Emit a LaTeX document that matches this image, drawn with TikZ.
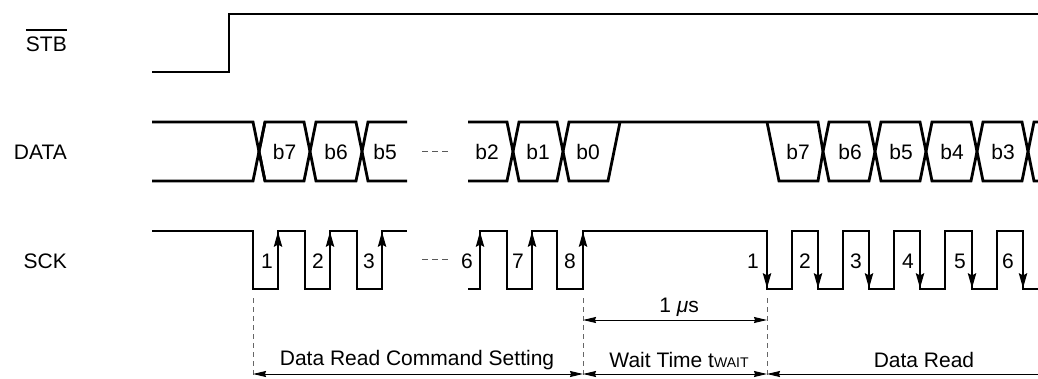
\documentclass[tikz,border=0pt]{standalone}
\usepackage{fontspec}
\setmainfont{Liberation Sans}
\usetikzlibrary{arrows.meta}
\begin{document}
\begin{tikzpicture}[x=1pt,y=-1pt,
  sig/.style={line width=2.8pt, line join=miter},
  lbl/.style={font=\fontsize{21}{25}\selectfont, inner sep=0pt},
  num/.style={font=\fontsize{21}{25}\selectfont, inner sep=0pt},
  edgeup/.style={line width=2.8pt, -{Stealth[length=15pt,width=8pt,inset=2pt]}},
  dim/.style={line width=1pt, {Stealth[length=13pt,width=6pt,inset=1pt]}-{Stealth[length=13pt,width=6pt,inset=1pt]}},
  dimleft/.style={line width=1pt, {Stealth[length=13pt,width=6pt,inset=1pt]}-},
  guide/.style={line width=0.9pt, gray!80!black, dash pattern=on 5pt off 4pt},
  gap/.style={line width=1pt, gray!70!black, dash pattern=on 6pt off 4pt}]
\useasboundingbox (0,0) rectangle (1038,379);

% signal names
\node[lbl, anchor=east] (stb) at (67,44) {STB};
\draw[line width=1.3pt] ([yshift=6.5pt]stb.north west) -- ([yshift=6.5pt]stb.north east);
\node[lbl, anchor=east] (data) at (67,152) {DATA};
\node[lbl, anchor=east] (sck) at (67,261) {SCK};

% STB
\draw[sig] (152,72) -- (229,72) -- (229,14) -- (1040,14);

% DATA bus
\def\T{122}\def\B{181}\def\M{151.5}\def\h{6}
\draw[sig] (152,\T) -- (253,\T) -- (265,\B);
\draw[sig] (152,\B) -- (253,\B) -- (265,\T);
\foreach \a/\b in {259/310,310/362,513/563,823/875,875/926,926/977,977/1028}{
  \draw[sig] (\a,\M) -- (\a+\h,\T) -- (\b-\h,\T) -- (\b,\M) -- (\b-\h,\B) -- (\a+\h,\B) -- cycle;
}
\draw[sig] (407,\T) -- (362+\h,\T) -- (362,\M) -- (362+\h,\B) -- (407,\B);
\draw[sig] (468,\T) -- (513-\h,\T) -- (513,\M) -- (513-\h,\B) -- (468,\B);
\draw[sig] (563,\M) -- (563+\h,\T) -- (620,\T) -- (767,\T) -- (818,\T) -- (823,\M);
\draw[sig] (563,\M) -- (563+\h,\B) -- (608,\B) -- (620,\T);
\draw[sig] (767,\T) -- (779,\B) -- (818,\B) -- (823,\M);
\draw[sig] (1028,\M) -- (1034,\T) -- (1040,\T);
\draw[sig] (1028,\M) -- (1034,\B) -- (1040,\B);
\draw[gap] (422,152) -- (449,152);

\foreach \x/\t in {284.5/b7,336/b6,385/b5,487/b2,538/b1,588/b0,798/b7,850/b6,901/b5,952/b4,1003/b3}{
  \node[lbl] (d\x) at (\x,152) {\t};
}

% SCK
\def\H{231}\def\L{289}
\draw[sig] (152,\H) -- (253,\H) -- (253,\L) -- (278,\L) -- (278,\H) -- (305,\H) -- (305,\L) -- (330,\L) -- (330,\H) -- (357,\H) -- (357,\L) -- (382,\L) -- (382,\H) -- (407,\H);
\draw[sig] (468,\L) -- (480,\L) -- (480,\H) -- (507,\H) -- (507,\L) -- (532,\L) -- (532,\H) -- (557,\H) -- (557,\L) -- (583,\L) -- (583,\H) -- (767,\H) -- (767,\L) -- (792,\L) -- (792,\H) -- (818,\H) -- (818,\L) -- (843,\L) -- (843,\H) -- (869,\H) -- (869,\L) -- (894,\L) -- (894,\H) -- (920,\H) -- (920,\L) -- (945,\L) -- (945,\H) -- (972,\H) -- (972,\L) -- (997,\L) -- (997,\H) -- (1023,\H) -- (1023,\L) -- (1040,\L);
\foreach \x in {278,330,382,480,532,583}{
  \draw[edgeup] (\x,\L) -- (\x,\H+0.5);
}
\foreach \x in {767,818,869,920,972,1023}{
  \draw[edgeup] (\x,\H) -- (\x,\L-0.5);
}
\draw[gap] (422,260) -- (449,260);
\foreach \x/\t in {267/1,318/2,369/3,467/6,518/7,570/8,753/1,805/2,856/3,908/4,960/5,1008/6}{
  \node[num] (n\x) at (\x,261) {\t};
}

% timing guides
\coordinate (g1t) at (253,298); \coordinate (g1b) at (253,380);
\coordinate (g2t) at (583,298); \coordinate (g2b) at (583,380);
\coordinate (g3t) at (767,298); \coordinate (g3b) at (767,380);
\coordinate (gend) at (1040,374);
\draw[guide] (g1t) -- (g1b);
\draw[guide] (g2t) -- (g2b);
\draw[guide] (g3t) -- (g3b);

\coordinate (u1) at (583,320); \coordinate (u2) at (767,320);
\draw[dim] (u1) -- (u2);
\node[lbl] (us) at (679,307) {1 {\itshape μ}s};

\coordinate (a1) at (253,374); \coordinate (a2) at (583,374); \coordinate (a3) at (767,374);
\draw[dim] (a1) -- (a2);
\draw[dim] (a2) -- (a3);
\draw[dimleft] (a3) -- (gend);
\node[lbl] (cmd) at (417,360) {Data Read Command Setting};
\node[lbl] (wait) at (679,360) {Wait Time t{\fontsize{14}{14}\selectfont WAIT}};
\node[lbl] (read) at (924,360) {Data Read};
\end{tikzpicture}
\end{document}
